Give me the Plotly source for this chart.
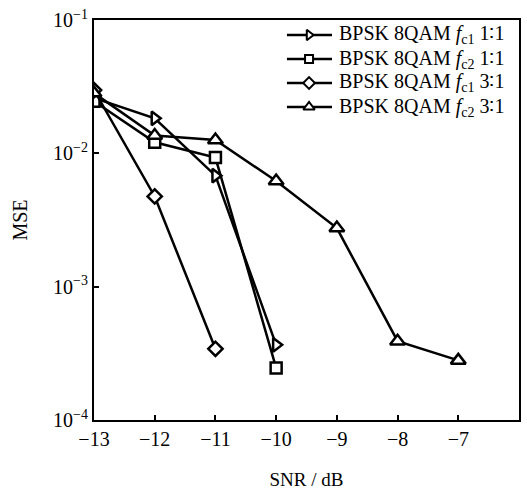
import plotly.graph_objects as go

snr = [-13, -12, -11, -10, -9, -8, -7]
fc1_11 = [0.026, 0.0183, 0.0068, 0.000366]
fc2_11 = [0.0246, 0.0121, 0.0093, 0.000246]
fc1_31 = [0.0298, 0.00475, 0.000342]
fc2_31 = [0.0283, 0.0136, 0.0126, 0.0062, 0.00275, 0.00039, 0.00028]

names = [
    "BPSK 8QAM <i>f</i><sub>c1</sub> 1∶1",
    "BPSK 8QAM <i>f</i><sub>c2</sub> 1∶1",
    "BPSK 8QAM <i>f</i><sub>c1</sub> 3∶1",
    "BPSK 8QAM <i>f</i><sub>c2</sub> 3∶1",
]
series = [fc1_11, fc2_11, fc1_31, fc2_31]
symbols = ["triangle-right", "square", "diamond", "triangle-up"]
sizes = [12, 11, 11, 13]
legend_sizes = [9, 8, 9, 10]

serif = "Liberation Serif, Times New Roman, serif"

# legend layout (fractions of the plot area)
leg_rows = [0.9625, 0.9025, 0.8425, 0.7825]
leg_x0, leg_xm, leg_x1, leg_tx = 0.454, 0.506, 0.56, 0.572

fig = go.Figure()
for n, ys, s, sz in zip(names, series, symbols, sizes):
    fig.add_trace(go.Scatter(
        x=snr[:len(ys)], y=ys, name=n, mode="lines+markers", showlegend=False,
        line=dict(color="black", width=2.5),
        marker=dict(symbol=s, size=sz, color="white", line=dict(color="black", width=2.5)),
    ))

# manual legend samples on an overlay axis spanning the plot area
for n, s, ls, ry in zip(names, symbols, legend_sizes, leg_rows):
    fig.add_trace(go.Scatter(
        x=[leg_x0, leg_x1], y=[ry, ry], xaxis="x2", yaxis="y2",
        mode="lines", showlegend=False, hoverinfo="skip",
        line=dict(color="black", width=2.5),
    ))
    fig.add_trace(go.Scatter(
        x=[leg_xm], y=[ry], xaxis="x2", yaxis="y2",
        mode="markers", showlegend=False, hoverinfo="skip",
        marker=dict(symbol=s, size=ls, color="white",
                    line=dict(color="black", width=2)),
    ))
    fig.add_annotation(
        x=leg_tx, y=ry, xref="paper", yref="paper", text=n, showarrow=False,
        xanchor="left", yanchor="middle",
        font=dict(family=serif, size=20, color="black"),
    )

fig.update_layout(
    width=527, height=498,
    margin=dict(l=94, r=6, t=20, b=78),
    paper_bgcolor="white", plot_bgcolor="white",
    font=dict(family=serif, size=20, color="black"),
    showlegend=False,
    xaxis2=dict(overlaying="x", range=[0, 1], visible=False, fixedrange=True),
    yaxis2=dict(overlaying="y", range=[0, 1], visible=False, fixedrange=True),
)
fig.update_layout(xaxis=dict(
    range=[-13, -6], tickvals=snr + [-6],
    ticktext=["−13", "−12", "−11", "−10", "−9", "−8", "−7", "−6"],
    ticks="inside", ticklen=5, tickwidth=1.5, tickcolor="black",
    showline=True, linecolor="black", linewidth=2, mirror=True,
    showgrid=False, zeroline=False,
    tickfont=dict(size=20),
    title=dict(text="SNR / dB", standoff=24, font=dict(size=19)),
))
fig.update_layout(yaxis=dict(
    type="log", range=[-4, -1],
    tickvals=[1e-4, 1e-3, 1e-2, 1e-1],
    ticktext=["10<sup>−4</sup>", "10<sup>−3</sup>", "10<sup>−2</sup>", "10<sup>−1</sup>"],
    ticks="inside", ticklen=5, tickwidth=1.5, tickcolor="black",
    showline=True, linecolor="black", linewidth=2, mirror=True,
    showgrid=False, zeroline=False,
    tickfont=dict(size=20),
    title=dict(text="MSE", standoff=20, font=dict(size=20)),
))
fig.write_html("out.html")
